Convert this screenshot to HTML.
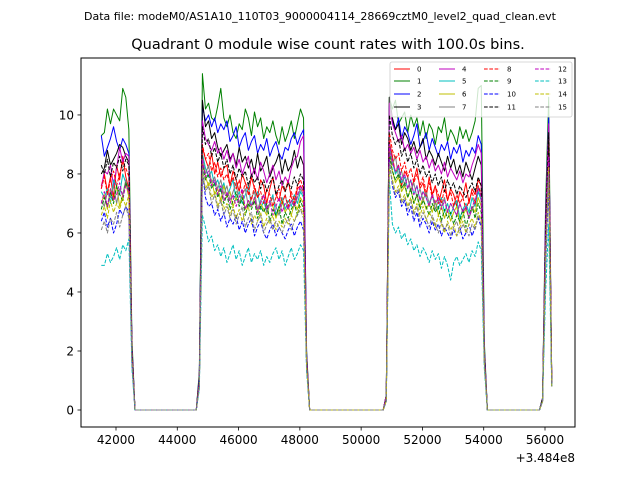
<!DOCTYPE html>
<html><head><meta charset="utf-8"><style>
body{margin:0;background:#fff;}
svg{display:block;font-family:"DejaVu Sans","Liberation Sans",sans-serif;}
</style></head><body>
<svg id="chart" width="640" height="480" viewBox="0 0 640 480" xmlns="http://www.w3.org/2000/svg">
<rect width="640" height="480" fill="#fff"/>
<text x="320" y="20" font-size="11" text-anchor="middle">Data file: modeM0/AS1A10_110T03_9000004114_28669cztM0_level2_quad_clean.evt</text>
<text x="328" y="49" font-size="14.5" text-anchor="middle">Quadrant 0 module wise count rates with 100.0s bins.</text>
<g id="plot"></g>
<rect x="81" y="58" width="494" height="369" fill="none" stroke="#000" stroke-width="1"/>
<g id="xticks"></g>
<g id="yticks"></g>
<text x="575" y="462" font-size="12" text-anchor="end">+3.484e8</text>
<g id="legend"></g>
</svg>
<script>
const xTicks=[42000,44000,46000,48000,50000,52000,54000,56000];
const yTicks=[0,2,4,6,8,10];
const t0=41520, dt=100;
const zeroGaps=[21,25,18];
const colors=["#ff0000","#008000","#0000ff","#000000","#bf00bf","#00bfbf","#bfbf00","#808080"];
const segA=[
[7.6,8.0,7.4,7.9,7.2,8.3,7.8,8.6,7.9,7.5,2.0],
[9.3,9.4,10.2,9.7,10.2,10.0,9.8,10.9,10.6,9.5,2.4],
[9.3,8.6,8.9,9.2,9.6,9.1,8.8,9.2,9.0,8.7,2.2],
[8.0,8.2,8.8,8.3,8.5,8.7,9.0,8.9,8.6,8.4,2.1],
[7.5,8.1,8.0,8.3,7.6,8.2,8.9,8.4,8.7,8.6,2.1],
[7.4,7.2,7.5,7.0,7.8,7.6,7.3,8.0,7.7,7.5,1.9],
[7.0,7.3,6.8,7.5,7.1,7.6,6.9,7.3,7.7,7.2,1.8],
[7.1,6.9,7.4,7.2,7.6,7.0,7.5,7.3,7.8,7.4,1.9],
[7.5,7.9,7.3,7.8,8.1,7.6,8.0,8.4,8.2,7.9,2.0],
[6.8,7.2,6.9,7.4,7.0,7.6,7.3,7.1,7.7,7.4,1.8],
[6.4,6.7,6.2,6.5,6.0,6.3,6.8,6.6,6.9,6.7,1.6],
[8.3,8.0,8.5,7.9,8.4,8.2,8.6,8.1,8.5,8.3,2.1],
[7.0,7.4,6.9,7.5,7.1,7.3,7.7,7.2,7.6,7.4,1.8],
[4.9,4.9,5.3,5.0,5.2,5.5,5.1,5.6,5.4,5.8,1.4],
[6.6,6.9,6.5,7.1,6.7,7.0,6.8,7.2,6.9,7.3,1.7],
[6.1,6.4,6.0,6.5,6.3,6.7,6.2,6.6,6.9,6.5,1.6]];
const segB=[
[1.1,8.9,8.5,8.2,8.7,8.0,8.4,7.9,8.2,8.3,7.6,8.1,7.8,7.4,8.0,7.7,7.3,7.9,7.5,7.2,7.8,7.6,7.0,7.5,7.9,7.3,7.1,7.6,7.4,7.8,7.2,7.0,7.5,7.6,7.4,1.6],
[1.3,11.4,10.2,10.4,9.9,9.8,10.3,10.9,9.9,9.6,10.0,9.4,9.2,9.7,9.5,10.2,9.9,9.3,10.1,9.6,9.9,9.2,9.6,9.4,9.8,9.3,9.0,9.6,9.1,9.4,9.8,9.2,9.7,10.2,9.9,2.0],
[1.2,10.3,9.8,10.0,9.6,9.9,9.4,9.7,9.5,9.8,9.1,9.3,9.6,8.9,9.2,9.4,8.8,9.1,9.3,8.7,9.0,8.8,9.2,8.6,8.9,9.1,8.7,8.5,8.9,8.8,9.2,9.4,9.0,9.3,9.5,1.9],
[1.1,10.5,9.6,9.8,9.2,9.4,8.9,8.6,8.8,9.0,8.5,8.7,8.3,8.9,8.4,8.6,8.2,8.5,8.0,8.7,8.1,8.3,8.6,7.9,8.2,8.4,8.7,8.0,8.5,8.1,8.3,8.8,8.2,8.6,8.3,1.8],
[1.0,9.8,9.2,9.0,8.8,9.1,8.7,8.9,8.5,8.8,8.4,8.7,8.2,8.5,8.0,8.3,8.6,7.9,8.2,7.8,8.4,8.1,7.7,8.0,8.3,7.8,8.1,7.6,7.9,7.7,8.2,8.5,8.6,9.1,9.3,1.8],
[0.9,8.7,8.2,7.9,8.1,7.6,7.8,7.4,7.7,7.2,7.5,7.8,7.1,7.4,7.0,7.3,7.6,6.9,7.2,7.4,6.8,7.1,6.7,7.0,7.3,6.6,6.9,7.2,6.8,7.1,6.9,7.3,7.0,7.4,7.2,1.6],
[0.9,8.4,7.9,7.6,7.8,7.3,7.5,7.1,7.6,7.2,7.4,6.9,7.2,7.0,7.3,6.8,7.1,6.9,7.2,6.7,7.0,6.8,6.6,7.0,6.9,6.5,6.8,7.1,6.7,6.9,6.6,7.0,6.8,7.2,7.0,1.5],
[0.9,8.6,8.0,8.3,7.7,7.9,7.5,7.8,7.3,7.6,7.1,7.4,7.7,7.0,7.3,7.5,6.9,7.2,7.4,6.8,7.1,7.3,6.7,7.0,7.2,6.9,6.6,7.0,7.3,6.8,7.1,6.9,7.2,7.5,7.3,1.6],
[1.0,9.0,8.5,8.7,8.1,8.4,7.9,8.2,7.8,8.0,7.6,7.9,7.5,7.8,7.3,7.7,7.5,7.1,7.6,7.2,7.4,7.0,7.5,7.3,6.9,7.2,7.5,7.0,7.3,6.9,7.4,7.1,7.6,7.8,7.5,1.7],
[0.9,8.3,7.8,8.0,7.5,7.7,7.2,7.5,7.0,7.3,6.8,7.1,7.4,6.9,7.2,6.6,7.0,6.8,7.1,6.5,6.9,6.7,7.0,6.4,6.8,6.6,6.9,6.3,6.7,6.5,6.8,7.0,6.6,7.1,6.8,1.5],
[0.8,8.1,7.2,6.9,7.0,6.6,6.8,6.4,6.7,6.2,6.5,6.3,6.6,6.1,6.4,6.0,6.3,6.5,5.9,6.2,6.4,6.0,5.8,6.1,6.3,5.9,6.2,6.0,5.8,6.1,6.3,5.9,6.2,6.4,6.1,1.4],
[1.0,9.6,9.0,9.2,8.6,8.9,8.4,8.7,8.2,8.5,8.0,8.3,7.8,8.2,7.9,8.1,7.6,8.0,7.7,7.9,7.5,7.8,7.4,7.7,7.9,7.3,7.6,7.8,7.4,7.7,7.5,7.9,7.6,8.0,7.8,1.7],
[0.9,8.5,7.9,8.1,7.6,7.8,7.3,7.6,7.1,7.4,7.0,7.3,6.9,7.2,7.5,6.8,7.1,6.9,7.2,6.7,7.0,7.3,6.8,7.1,6.6,6.9,7.2,6.7,7.0,6.8,7.1,6.9,7.3,7.6,7.4,1.6],
[0.7,6.6,6.2,5.7,5.9,5.4,5.6,5.2,5.5,5.0,5.3,5.6,5.1,5.4,4.9,5.2,5.5,5.0,5.3,5.1,5.4,4.9,5.2,5.0,5.3,5.5,5.1,5.4,4.9,5.2,5.5,5.1,5.3,5.6,5.4,1.3],
[0.8,8.0,7.5,7.7,7.2,7.4,6.9,7.2,6.8,7.0,6.6,6.9,6.5,6.8,6.4,6.7,6.9,6.3,6.6,6.4,6.7,6.2,6.5,6.3,6.6,6.1,6.4,6.2,6.5,6.3,6.6,6.4,6.7,6.9,6.6,1.5],
[0.8,8.2,7.4,7.6,7.0,7.3,6.8,7.1,6.6,6.9,6.5,6.8,6.3,6.6,6.9,6.2,6.5,6.7,6.1,6.4,6.6,6.0,6.3,6.5,6.1,6.4,6.2,6.0,6.3,6.5,6.1,6.4,6.6,6.8,6.5,1.5]];
const segC=[
[0.4,9.1,8.6,8.0,8.3,7.6,8.1,7.9,7.4,7.8,8.2,7.5,7.7,7.2,7.9,7.3,7.6,7.0,7.4,7.8,7.1,7.5,7.3,6.9,7.4,7.2,7.7,7.0,7.5,7.3,7.8,7.6,1.7],
[0.5,10.6,10.2,10.5,9.7,9.9,10.1,9.4,10.0,9.6,9.9,9.3,9.8,9.2,9.7,9.5,9.0,9.6,9.4,9.9,9.1,9.5,9.3,9.0,9.6,9.2,9.5,9.1,9.4,9.8,10.9,11.0,2.3],
[0.5,10.3,9.8,9.5,9.9,9.2,9.6,9.4,9.0,9.3,9.7,8.9,9.1,9.4,8.8,9.2,8.9,8.6,9.0,8.8,9.1,8.5,8.9,8.7,9.0,8.4,8.8,8.6,8.9,8.7,9.3,9.0,2.1],
[0.5,10.6,9.9,9.5,9.7,9.0,9.4,9.2,8.8,9.1,8.7,8.9,9.2,8.5,8.8,8.6,8.3,8.7,8.4,8.1,8.6,8.2,8.5,8.0,8.3,7.9,8.4,8.1,7.8,8.2,8.6,8.3,2.0],
[0.5,10.4,9.7,9.4,9.1,9.3,8.8,9.0,8.7,8.9,8.5,8.8,8.4,8.6,8.2,8.5,8.1,8.3,8.0,8.4,7.9,8.2,8.0,7.8,8.1,7.7,8.0,7.9,8.3,8.6,9.0,8.7,2.0],
[0.4,9.0,8.4,8.0,8.2,7.7,7.9,7.5,7.8,7.3,7.6,7.1,7.4,7.2,6.9,7.3,7.0,6.8,7.2,6.7,7.0,6.6,6.9,7.1,6.5,6.8,7.0,6.7,7.2,6.9,7.4,7.1,1.8],
[0.4,8.6,8.1,7.7,7.9,7.4,7.6,7.2,7.5,7.0,7.3,6.9,7.2,6.8,7.0,6.7,7.1,6.6,6.9,6.5,6.8,6.4,6.7,6.9,6.3,6.6,6.8,6.5,6.9,6.7,7.2,6.9,1.7],
[0.4,8.9,8.3,8.6,7.9,8.1,7.6,7.9,7.4,7.7,7.2,7.5,7.1,7.4,7.0,7.3,6.8,7.1,6.9,7.2,6.7,7.0,6.8,6.6,7.0,6.7,6.9,6.5,6.8,7.0,7.6,7.2,1.8],
[0.4,9.4,8.8,8.5,8.7,8.1,8.4,7.9,8.2,7.7,8.0,7.6,7.9,7.4,7.7,7.2,7.6,7.3,7.0,7.5,7.1,7.4,6.9,7.3,7.0,7.2,6.8,7.1,7.4,7.0,7.6,7.3,1.9],
[0.4,8.7,8.1,7.8,8.0,7.5,7.7,7.2,7.5,7.0,7.3,6.8,7.1,6.9,6.6,7.0,6.7,6.9,6.4,6.8,6.5,6.7,6.3,6.6,6.4,6.8,6.2,6.6,6.9,6.5,7.0,6.7,1.7],
[0.3,8.5,7.6,7.2,7.4,6.9,7.1,6.6,6.9,6.4,6.7,6.2,6.5,6.3,6.0,6.4,6.1,6.3,5.9,6.2,6.0,5.8,6.1,5.9,6.2,5.8,6.0,6.3,5.9,6.2,6.5,6.2,1.6],
[0.4,10.0,9.3,9.0,9.2,8.6,8.9,8.4,8.7,8.2,8.5,8.0,8.3,7.9,8.1,7.7,8.0,7.6,7.9,7.4,7.8,7.5,7.7,7.3,7.6,7.4,7.2,7.5,7.7,7.4,7.9,7.6,1.9],
[0.4,9.0,8.4,8.1,8.3,7.8,8.0,7.5,7.8,7.3,7.6,7.1,7.4,7.2,6.9,7.3,7.0,7.2,6.8,7.1,6.7,7.0,6.8,6.6,7.0,6.7,6.9,6.5,6.9,7.1,7.5,7.2,1.8],
[0.3,7.8,6.3,6.0,6.2,5.8,6.0,5.6,5.8,5.4,5.6,5.2,5.5,5.3,5.0,5.4,5.1,5.3,4.8,5.2,4.9,4.4,5.0,5.2,4.9,5.1,5.3,5.0,5.4,5.2,5.7,5.4,1.4],
[0.3,8.2,7.8,7.4,7.6,7.1,7.3,6.9,7.2,6.7,7.0,6.6,6.9,6.4,6.7,6.5,6.2,6.6,6.3,6.0,6.4,6.1,6.3,5.9,6.2,6.4,6.0,6.3,6.5,6.2,6.7,6.4,1.6],
[0.3,8.4,7.7,7.3,7.5,7.0,7.2,6.8,7.1,6.6,6.9,6.4,6.7,6.5,6.2,6.6,6.3,6.0,6.4,6.1,6.3,5.9,6.2,6.4,6.0,6.3,6.1,5.9,6.3,6.1,6.6,6.3,1.6]];
const segD=[
[0.3,5.8,9.8,0.9],[0.4,7.0,10.6,1.0],[0.4,6.5,9.9,0.9],[0.4,6.2,9.6,1.0],
[0.4,6.4,9.7,1.0],[0.3,5.5,8.3,0.9],[0.3,5.3,8.3,0.9],[0.3,5.6,8.6,0.9],
[0.3,5.9,9.1,0.9],[0.3,5.2,8.0,0.8],[0.3,4.9,7.6,0.8],[0.4,6.0,9.4,0.9],
[0.3,5.5,8.6,0.9],[0.3,4.0,6.3,0.8],[0.3,5.1,8.2,0.8],[0.3,5.0,8.0,0.8]];

const NS="http://www.w3.org/2000/svg";
const xMin=40858,xMax=56979,yMin=-0.576,yMax=11.93;
const L=81,R=575,T=58,B=427;
const xs=v=>L+(v-xMin)/(xMax-xMin)*(R-L);
const ys=v=>B-(v-yMin)/(yMax-yMin)*(B-T);
function mk(tag,attrs,parent){const e=document.createElementNS(NS,tag);for(const k in attrs)e.setAttribute(k,attrs[k]);parent.appendChild(e);return e;}

const plot=document.getElementById('plot');
for(let s=0;s<16;s++){
  const vals=[...segA[s],...Array(zeroGaps[0]).fill(0),...segB[s],...Array(zeroGaps[1]).fill(0),...segC[s],...Array(zeroGaps[2]).fill(0),...segD[s]];
  const pts=vals.map((v,i)=>xs(t0+i*dt).toFixed(2)+','+ys(v).toFixed(2)).join(' ');
  const pl=mk('polyline',{points:pts,fill:'none',stroke:colors[s%8],'stroke-width':'1','stroke-linejoin':'round'},plot);
  if(s>=8)pl.setAttribute('stroke-dasharray','3.7,1.6');
  
  
}
const xg=document.getElementById('xticks');
xTicks.forEach(v=>{
  const x=xs(v);
  const ln=mk('line',{x1:x,x2:x,y1:B,y2:B+3.5,stroke:'#000','stroke-width':'0.8'},xg);
  
  
  const tx=mk('text',{x:x,y:B+17,'font-size':'12','text-anchor':'middle'},xg);
  tx.textContent=v;
  
  
});
const yg=document.getElementById('yticks');
yTicks.forEach(v=>{
  const y=ys(v);
  const ln=mk('line',{x1:L-3.5,x2:L,y1:y,y2:y,stroke:'#000','stroke-width':'0.8'},yg);
  
  
  const tx=mk('text',{x:L-7,y:y+4.5,'font-size':'12','text-anchor':'end'},yg);
  tx.textContent=v;
  
  
});
const lg=document.getElementById('legend');
const box=mk('rect',{x:390,y:62,width:182,height:55,rx:2,fill:'#fff','fill-opacity':'0.8',stroke:'#ccc','stroke-width':'0.8'},lg);


const colX=[394,439,484,535], rowY=[69,81,94,107];
for(let s=0;s<16;s++){
  const c=Math.floor(s/4), r=s%4;
  const ln=mk('line',{x1:colX[c],x2:colX[c]+16,y1:rowY[r],y2:rowY[r],stroke:colors[s%8],'stroke-width':'1'},lg);
  if(s>=8)ln.setAttribute('stroke-dasharray','3.7,1.6');
  
  
  const tx=mk('text',{x:colX[c]+23,y:rowY[r]+2.5,'font-size':'7'},lg);
  tx.textContent=s;
  
  
}
</script>
</body></html>
